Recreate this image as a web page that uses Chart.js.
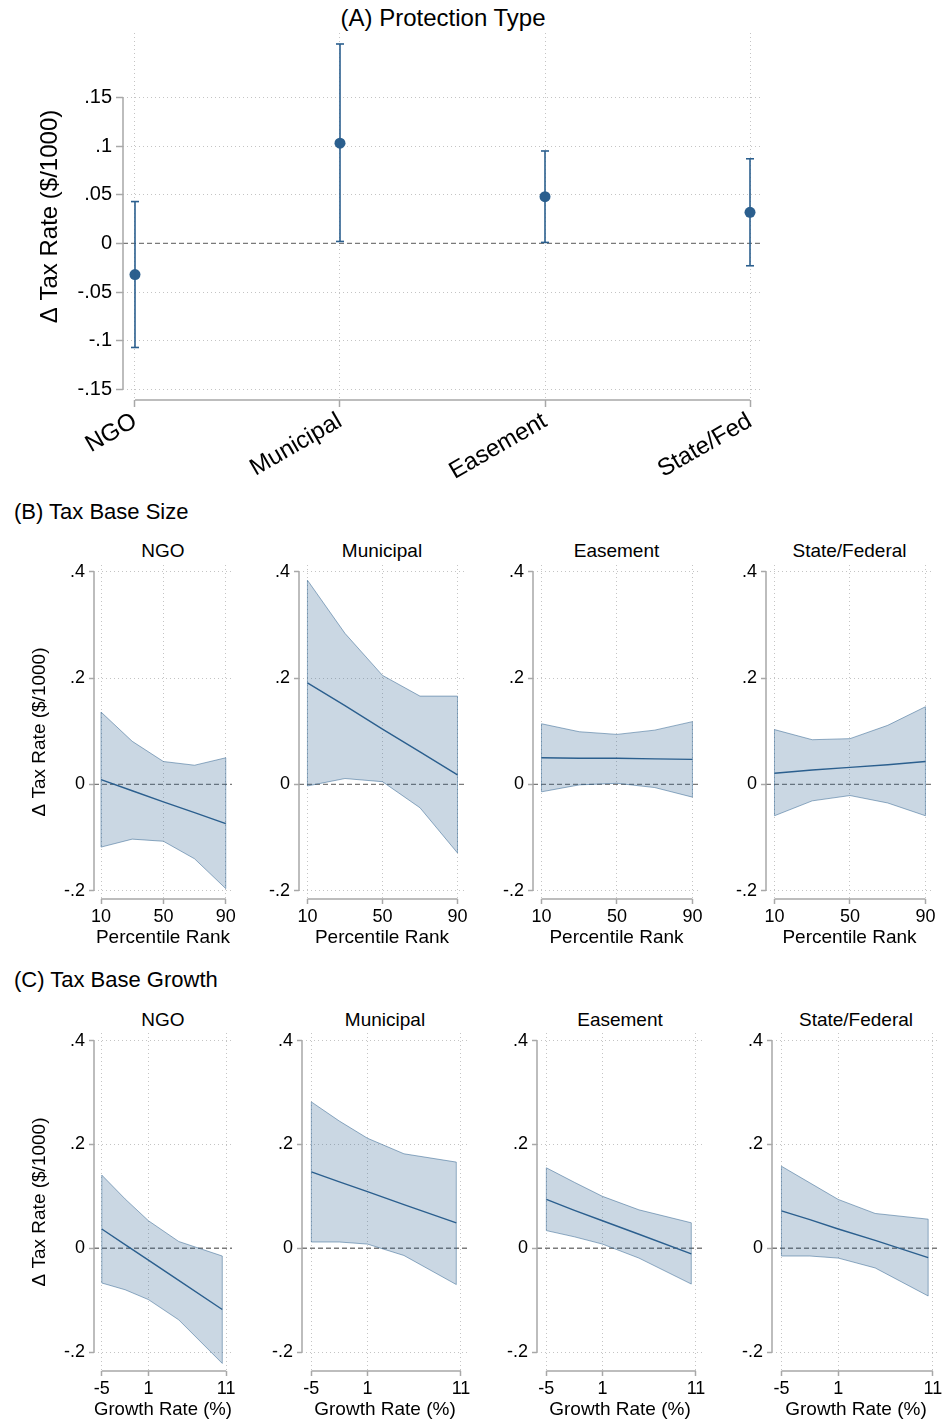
<!DOCTYPE html>
<html>
<head>
<meta charset="utf-8">
<script src="https://cdn.jsdelivr.net/npm/chart.js@4.4.0/dist/chart.umd.min.js"></script>
<style>
  html, body { margin: 0; padding: 0; background: #fff; }
  body { position: relative; width: 942px; height: 1424px; overflow: hidden;
         font-family: "Liberation Sans", Arial, sans-serif; color: #000; }
  canvas { position: absolute; }
  .lbl { position: absolute; white-space: nowrap; line-height: 1; }
</style>
</head>
<body>
<script>
// ---- data: panel A (protection type) ----
const protectionTypes = ['NGO', 'Municipal', 'Easement', 'State/Fed'];
const protectionEst = [-0.032, 0.103, 0.048, 0.032];
const protectionLo = [-0.107, 0.002, 0.001, -0.023];
const protectionHi = [0.043, 0.205, 0.095, 0.087];
const yTicksA = [-0.15, -0.1, -0.05, 0, 0.05, 0.1, 0.15];
const yTickLabelsA = ['-.15', '-.1', '-.05', '0', '.05', '.1', '.15'];

// ---- data: panels B and C ----
const panelNames = ['NGO', 'Municipal', 'Easement', 'State/Federal'];
const yTicksBC = [-0.2, 0, 0.2, 0.4];
const yTickLabelsBC = ['-.2', '0', '.2', '.4'];

// B: tax base size, by percentile rank
const percentileRank = [10, 30, 50, 70, 90];
const sizeTicks = [10, 50, 90];
const sizeEst = [
  [0.009, -0.012, -0.033, -0.053, -0.074],
  [0.191, 0.148, 0.104, 0.061, 0.018],
  [0.050, 0.049, 0.049, 0.048, 0.047],
  [0.021, 0.027, 0.032, 0.037, 0.043]
];
const sizeLo = [
  [-0.118, -0.103, -0.107, -0.140, -0.196],
  [-0.003, 0.011, 0.005, -0.044, -0.129],
  [-0.014, -0.001, 0.002, -0.006, -0.024],
  [-0.059, -0.031, -0.021, -0.035, -0.059]
];
const sizeHi = [
  [0.136, 0.081, 0.043, 0.036, 0.050],
  [0.384, 0.284, 0.205, 0.166, 0.166],
  [0.114, 0.099, 0.094, 0.102, 0.118],
  [0.103, 0.084, 0.086, 0.111, 0.146]
];

// C: tax base growth, by growth rate (%)
const growthRate = [-5, -2, 1, 4.9, 10.5];
const growthTicks = [-5, 1, 11];
const growthEst = [
  [0.037, 0.007, -0.023, -0.062, -0.118],
  [0.147, 0.128, 0.109, 0.084, 0.049],
  [0.094, 0.073, 0.053, 0.027, -0.011],
  [0.072, 0.055, 0.037, 0.015, -0.018]
];
const growthLo = [
  [-0.067, -0.080, -0.099, -0.138, -0.222],
  [0.012, 0.012, 0.008, -0.014, -0.070],
  [0.034, 0.022, 0.008, -0.019, -0.069],
  [-0.015, -0.015, -0.019, -0.038, -0.092]
];
const growthHi = [
  [0.141, 0.095, 0.053, 0.013, -0.015],
  [0.282, 0.245, 0.212, 0.182, 0.166],
  [0.155, 0.127, 0.100, 0.074, 0.049],
  [0.158, 0.126, 0.094, 0.067, 0.056]
];

// ---- styles ----
const FONT = '"Liberation Sans", Arial, sans-serif';
const navy = '#2b5f8e';
const bandFill = 'rgba(43, 95, 142, 0.25)';
const bandEdge = 'rgba(43, 95, 142, 0.5)';
const gridColor = '#c4c4c4';
const axisColor = '#a8a8a8';
const Y_TITLE = 'Δ Tax Rate ($/1000)';

Chart.defaults.font.family = FONT;
Chart.defaults.color = '#000';

// Stata-like axes: lines only over the tick range, plus dashed line at zero
const stataAxes = {
  id: 'stataAxes',
  beforeDatasetsDraw(chart) {
    const { ctx, chartArea, scales: { y } } = chart;
    const y0 = y.getPixelForValue(0);
    ctx.save();
    ctx.strokeStyle = '#7a7a7a';
    ctx.lineWidth = 1.3;
    ctx.setLineDash([5, 3]);
    ctx.beginPath();
    ctx.moveTo(chartArea.left, y0);
    ctx.lineTo(chartArea.right, y0);
    ctx.stroke();
    ctx.restore();
  },
  afterDraw(chart) {
    const { ctx, chartArea, scales: { x, y } } = chart;
    const xt = x.ticks, yt = y.ticks;
    ctx.save();
    ctx.strokeStyle = axisColor;
    ctx.lineWidth = 1.5;
    ctx.beginPath();
    ctx.moveTo(chartArea.left, y.getPixelForValue(yt[0].value));
    ctx.lineTo(chartArea.left, y.getPixelForValue(yt[yt.length - 1].value));
    ctx.moveTo(x.getPixelForValue(xt[0].value), chartArea.bottom);
    ctx.lineTo(x.getPixelForValue(xt[xt.length - 1].value), chartArea.bottom);
    ctx.stroke();
    ctx.restore();
  }
};

function makeCanvas(left, top, w, h) {
  const c = document.createElement('canvas');
  c.width = w; c.height = h;
  c.style.left = left + 'px'; c.style.top = top + 'px';
  c.style.width = w + 'px'; c.style.height = h + 'px';
  document.body.appendChild(c);
  return c;
}

function addText(text, x, y, size, center) {
  const d = document.createElement('div');
  d.className = 'lbl';
  d.textContent = text;
  d.style.fontSize = size + 'px';
  d.style.left = x + 'px';
  d.style.top = y + 'px';
  d.style.transform = center ? 'translate(-50%, -50%)' : 'translate(0, -50%)';
  document.body.appendChild(d);
}

function gridOpts(tickLen) {
  return {
    color: gridColor, lineWidth: 1,
    tickLength: tickLen, tickColor: axisColor, tickWidth: 1.5, tickBorderDash: []
  };
}

// border.dash drives the grid-line dash in Chart.js v4
const dottedBorder = { display: false, dash: [1, 3], dashOffset: 0 };

function yScale(min, max, ticks, labels, fontSize, tickLen, width, title, titleSize, titlePad) {
  return {
    type: 'linear', position: 'left', min: min, max: max,
    afterBuildTicks: s => { s.ticks = ticks.map(v => ({ value: v })); },
    afterFit: s => { s.width = width; },
    border: dottedBorder,
    grid: gridOpts(tickLen),
    ticks: { font: { size: fontSize }, color: '#000', padding: 4, autoSkip: false,
             callback: (v, i) => labels[i] },
    title: title
      ? { display: true, text: title, color: '#000', font: { size: titleSize },
          padding: { top: titlePad, bottom: 0 } }
      : { display: false }
  };
}

function xScale(min, max, ticks, labels, fontSize, tickLen, height, title, titleSize, rotation, pad) {
  return {
    type: 'linear', position: 'bottom', min: min, max: max,
    afterBuildTicks: s => { s.ticks = ticks.map(v => ({ value: v })); },
    afterFit: s => { s.height = height; },
    border: dottedBorder,
    grid: gridOpts(tickLen),
    ticks: { font: { size: fontSize }, color: '#000', padding: pad, autoSkip: false,
             minRotation: rotation, maxRotation: rotation,
             callback: (v, i) => labels[i] },
    title: title
      ? { display: true, text: title, color: '#000', font: { size: titleSize },
          padding: { top: 0, bottom: 0 } }
      : { display: false }
  };
}

const baseOptions = (scales, pad) => ({
  responsive: false,
  animation: false,
  events: [],
  layout: { padding: pad },
  plugins: { legend: { display: false }, tooltip: { enabled: false } },
  scales: scales
});

// ---- panel A ----
addText('(A) Protection Type', 443, 18, 24, true);
(function () {
  const plot = { left: 123, top: 33, right: 762, bottom: 400 };
  const R = 942 - plot.right, B = 80;
  const c = makeCanvas(0, 0, 942, plot.bottom + B);
  const cats = protectionTypes.map((_, i) => i + 1);
  const datasets = [];
  cats.forEach((xv, i) => {
    datasets.push({
      data: [{ x: xv, y: protectionLo[i] }, { x: xv, y: protectionHi[i] }],
      borderColor: navy, borderWidth: 1.6,
      pointStyle: 'line', pointRadius: 4, pointBorderWidth: 1.6,
      pointBorderColor: navy, fill: false
    });
  });
  datasets.push({
    data: cats.map((xv, i) => ({ x: xv, y: protectionEst[i] })),
    showLine: false, pointStyle: 'circle', pointRadius: 5.5,
    pointBackgroundColor: navy, pointBorderColor: navy, pointBorderWidth: 0
  });
  new Chart(c, {
    type: 'line',
    data: { datasets: datasets },
    options: baseOptions({
      x: xScale(0.9415, 4.0585, cats, protectionTypes, 24, 7, B, null, 0, 30, 0),
      y: yScale(-0.161, 0.2163, yTicksA, yTickLabelsA, 20, 7, plot.left, Y_TITLE, 24, 36)
    }, { top: plot.top, right: R, left: 0, bottom: 0 }),
    plugins: [stataAxes]
  });
})();

// ---- panels B and C ----
function bandChart(plot, xs, est, lo, hi, xMin, xMax, xTicks, yMin, yMax, xTitle, withYTitle) {
  const L = withYTitle ? plot.left : 60, T = 20, R = 12, B = 50;
  const c = makeCanvas(plot.left - L, plot.top - T,
                       L + (plot.right - plot.left) + R, T + (plot.bottom - plot.top) + B);
  const n = xs.length;
  const pts = arr => xs.map((xv, i) => ({ x: xv, y: arr[i] }));
  const datasets = [
    { data: pts(hi), borderColor: bandEdge, borderWidth: 1, pointRadius: 0,
      backgroundColor: bandFill, fill: '+1', tension: 0 },
    { data: pts(lo), borderColor: bandEdge, borderWidth: 1, pointRadius: 0, fill: false, tension: 0 },
    { data: [{ x: xs[0], y: lo[0] }, { x: xs[0], y: hi[0] }],
      borderColor: bandEdge, borderWidth: 1, pointRadius: 0, fill: false },
    { data: [{ x: xs[n - 1], y: lo[n - 1] }, { x: xs[n - 1], y: hi[n - 1] }],
      borderColor: bandEdge, borderWidth: 1, pointRadius: 0, fill: false },
    { data: pts(est), borderColor: navy, borderWidth: 1.4, pointRadius: 0, fill: false, tension: 0 }
  ];
  new Chart(c, {
    type: 'line',
    data: { datasets: datasets },
    options: baseOptions({
      x: xScale(xMin, xMax, xTicks, xTicks.map(String), 18, 5, B, xTitle, 19, 0, 2),
      y: yScale(yMin, yMax, yTicksBC, yTickLabelsBC, 18, 5, L,
                withYTitle ? Y_TITLE : null, 19, 28)
    }, { top: T, right: R, left: 0, bottom: 0 }),
    plugins: [stataAxes]
  });
}

addText('(B) Tax Base Size', 14, 512, 22, false);
const bLefts = [94, 299, 533, 766], bRights = [232, 465, 700, 933];
panelNames.forEach((name, i) => {
  const plot = { left: bLefts[i], top: 565, right: bRights[i], bottom: 899 };
  addText(name, (plot.left + plot.right) / 2, 550, 19, true);
  bandChart(plot, percentileRank, sizeEst[i], sizeLo[i], sizeHi[i],
            5.5, 94, sizeTicks, -0.2156, 0.4126, 'Percentile Rank', i === 0);
});

addText('(C) Tax Base Growth', 14, 980, 22, false);
const cLefts = [94, 302, 537, 772], cRights = [232, 468, 703, 940];
panelNames.forEach((name, i) => {
  const plot = { left: cLefts[i], top: 1033, right: cRights[i], bottom: 1371 };
  addText(name, (plot.left + plot.right) / 2, 1019, 19, true);
  bandChart(plot, growthRate, growthEst[i], growthLo[i], growthHi[i],
            -6, 11.75, growthTicks, -0.2366, 0.4148, 'Growth Rate (%)', i === 0);
});
</script>
</body>
</html>
